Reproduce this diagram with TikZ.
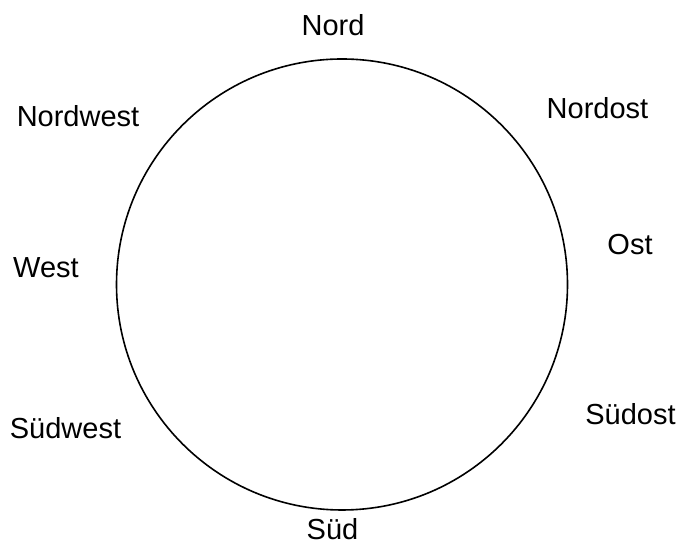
\documentclass[tikz,border=0pt]{standalone}
\usepackage{fontspec}
\setmainfont{Liberation Sans}

\begin{document}
\begin{tikzpicture}[x=1pt,y=1pt,
  dir/.style={font=\fontsize{29}{34}\selectfont,text height=20.8pt,text depth=0pt,inner sep=0pt}]
  \useasboundingbox (0,0) rectangle (680,545);
  \coordinate (mid) at (342,260.5);
  \draw[line width=1.6pt] (mid) circle (225.5);
  \foreach \nm/\x/\y/\txt in {n/333/519.5/Nord, no/597.5/437/Nordost, nw/78/428.5/Nordwest,
      o/630/301/Ost, w/46/278/West, so/630.5/131/Südost, sw/65.5/116.5/Südwest, s/332.5/16/Süd}{
    \node[dir] (\nm) at (\x,\y) {\txt};
  }
\end{tikzpicture}
\end{document}
